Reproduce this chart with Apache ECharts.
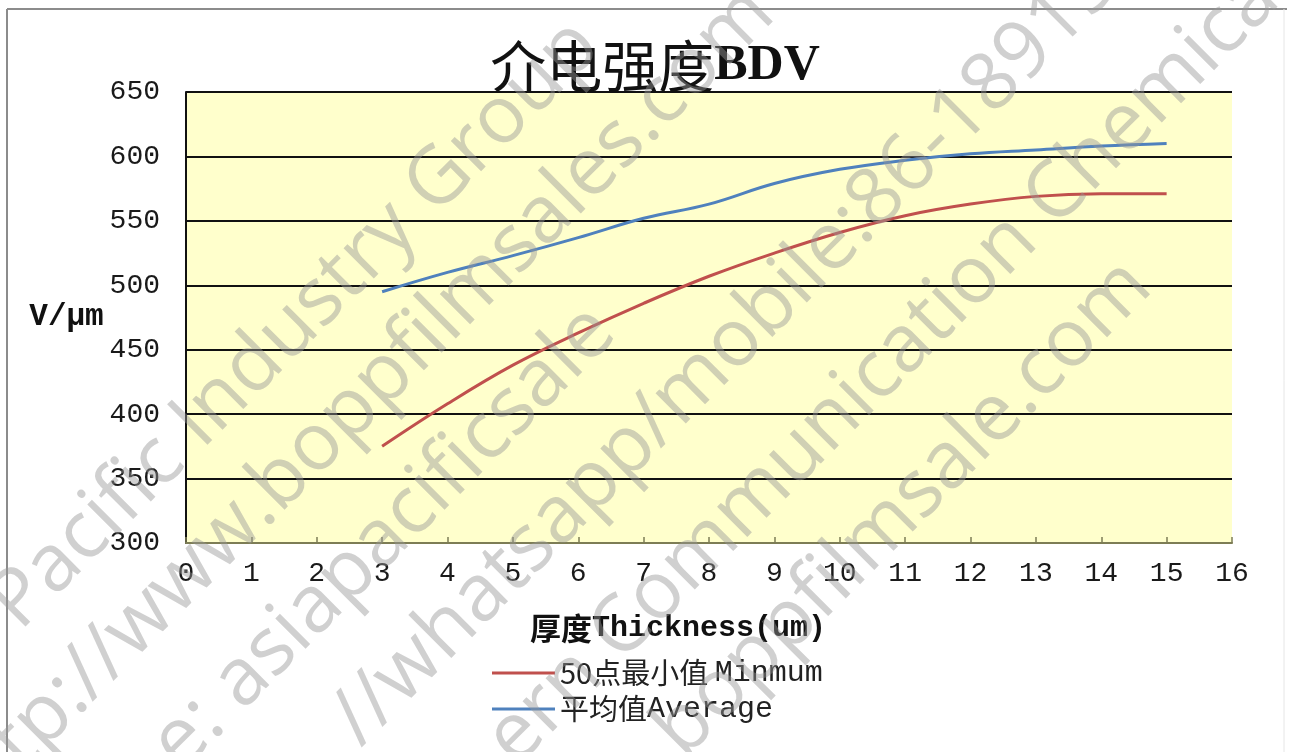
<!DOCTYPE html>
<html>
<head>
<meta charset="utf-8">
<script src="https://cdn.jsdelivr.net/npm/echarts@6/dist/echarts.min.js"></script>
<style>
  html, body { margin: 0; padding: 0; background: #ffffff; }
  #chart { width: 1290px; height: 752px; }
</style>
</head>
<body>
<div id="chart"></div>
<script>
// Film thickness (µm) and breakdown voltage (V/µm)
const thickness = [3, 4, 5, 6, 7, 8, 9, 10, 11, 12, 13, 14, 15];
const minimum50 = [375, 408, 438, 463, 486, 507, 525, 541, 554, 563, 569, 571, 571];
const average = [495, 510, 523, 537, 552, 563, 579, 590, 597, 602, 605, 608, 610];

const seriesNames = ['50点最小值 Minmum', '平均值Average'];
const titleCjk = '介电强度';
const titleLatin = 'BDV';
const yAxisName = 'V/μm';
const xAxisNameCjk = '厚度';
const xAxisNameLatin = 'Thickness(um)';

// Diagonal watermark lines: text and start point
const watermarkLines = [
  { text: 'Pacific Industry Group', x: 4, y: 616 },
  { text: 'ttp://www.boppfilmsales.com', x: -14, y: 776 },
  { text: 'e: asiapacificsale', x: 165, y: 757 },
  { text: '//whatsapp/mobile:86-18915', x: 345, y: 732 },
  { text: 'ern Communication Chemical', x: 500, y: 752 },
  { text: 'boppfilmsale.com', x: 668, y: 744 }
];

const pair = (xs, ys) => xs.map((x, i) => [x, ys[i]]);

const chart = echarts.init(document.getElementById('chart'), null, { renderer: 'canvas' });

const monoFont = '"Liberation Mono", "DejaVu Sans Mono", monospace';
const cjkFont = '"Noto Sans CJK SC", sans-serif';

const option = {
  backgroundColor: '#ffffff',
  animation: false,
  grid: {
    left: 186, right: 58, top: 92, bottom: 209,
    show: true, backgroundColor: '#FFFFCC', borderWidth: 0,
    outerBoundsMode: 'none'
  },
  xAxis: {
    type: 'value', min: 0, max: 16, interval: 1,
    name: '{c|' + xAxisNameCjk + '}{l|' + xAxisNameLatin + '}',
    nameLocation: 'middle', nameGap: 70,
    nameTextStyle: {
      padding: [0, 62, 0, 0],
      rich: {
        c: { fontFamily: cjkFont, fontSize: 31, fontWeight: 'bold', color: '#111' },
        l: { fontFamily: monoFont, fontSize: 30, fontWeight: 'bold', color: '#111' }
      }
    },
    axisLine: { show: true, onZero: false, lineStyle: { color: '#7d7d55', width: 2 } },
    axisTick: { show: true, inside: true, length: 6, lineStyle: { color: '#7d7d55', width: 1.5 } },
    axisLabel: { fontFamily: monoFont, fontSize: 28, color: '#1a1a1a', margin: 17 },
    splitLine: { show: false }
  },
  yAxis: {
    type: 'value', min: 300, max: 650, interval: 50,
    name: yAxisName, nameLocation: 'middle', nameRotate: 0, nameGap: 76,
    nameTextStyle: { fontFamily: monoFont, fontSize: 31, fontWeight: 'bold', color: '#111', padding: [8, 0, 0, 0] },
    axisLine: { show: true, lineStyle: { color: '#111', width: 2 } },
    axisTick: { show: false },
    axisLabel: { fontFamily: monoFont, fontSize: 28, color: '#1a1a1a', margin: 26 },
    splitLine: { show: true, lineStyle: { color: '#111', width: 2 } }
  },
  legend: {
    orient: 'vertical', left: 487, top: 653, itemGap: 6,
    icon: 'rect', itemWidth: 63, itemHeight: 3,
    data: seriesNames,
    formatter: function (name) {
      const m = name.match(/^(.*?)([A-Za-z]+)$/);
      return '{c|' + m[1] + '}{l|' + m[2] + '}';
    },
    textStyle: {
      rich: {
        c: { fontFamily: cjkFont, fontSize: 29, color: '#222', lineHeight: 30 },
        l: { fontFamily: monoFont, fontSize: 30, color: '#222', lineHeight: 30 }
      }
    }
  },
  series: [
    {
      name: seriesNames[0], type: 'line', smooth: 0.4, symbol: 'none',
      lineStyle: { color: '#C0504D', width: 3 }, itemStyle: { color: '#C0504D' },
      data: pair(thickness, minimum50), z: 3
    },
    {
      name: seriesNames[1], type: 'line', smooth: 0.4, symbol: 'none',
      lineStyle: { color: '#4F81BD', width: 3 }, itemStyle: { color: '#4F81BD' },
      data: pair(thickness, average), z: 3
    }
  ],
  graphic: [
    // outer frame
    { type: 'line', shape: { x1: 7, y1: 9, x2: 1287, y2: 9 }, style: { stroke: '#8c8c8c', lineWidth: 2 }, z: 1 },
    { type: 'line', shape: { x1: 7, y1: 9, x2: 7, y2: 752 }, style: { stroke: '#8c8c8c', lineWidth: 2 }, z: 1 },
    { type: 'line', shape: { x1: 1284, y1: 9, x2: 1284, y2: 752 }, style: { stroke: '#e6e6e6', lineWidth: 1 }, z: 1 },
    // chart title
    {
      type: 'text', x: 655, y: 66, z: 10,
      style: {
        text: '{c|' + titleCjk + '}{l|' + titleLatin + '}',
        textAlign: 'center', textVerticalAlign: 'middle',
        rich: {
          c: { fontFamily: cjkFont, fontSize: 56, fill: '#111' },
          l: { fontFamily: '"Liberation Serif", serif', fontSize: 50, fontWeight: 'bold', fill: '#111' }
        }
      }
    }
  ].concat(watermarkLines.map(w => ({
    type: 'text', x: w.x, y: w.y, rotation: Math.PI / 4, z: 100, silent: true,
    style: {
      text: w.text, textAlign: 'left', textVerticalAlign: 'middle',
      font: '80px "Open Sans", "Noto Sans", sans-serif',
      fill: 'rgba(150,150,150,0.45)'
    }
  })))
};

chart.setOption(option);
</script>
</body>
</html>
